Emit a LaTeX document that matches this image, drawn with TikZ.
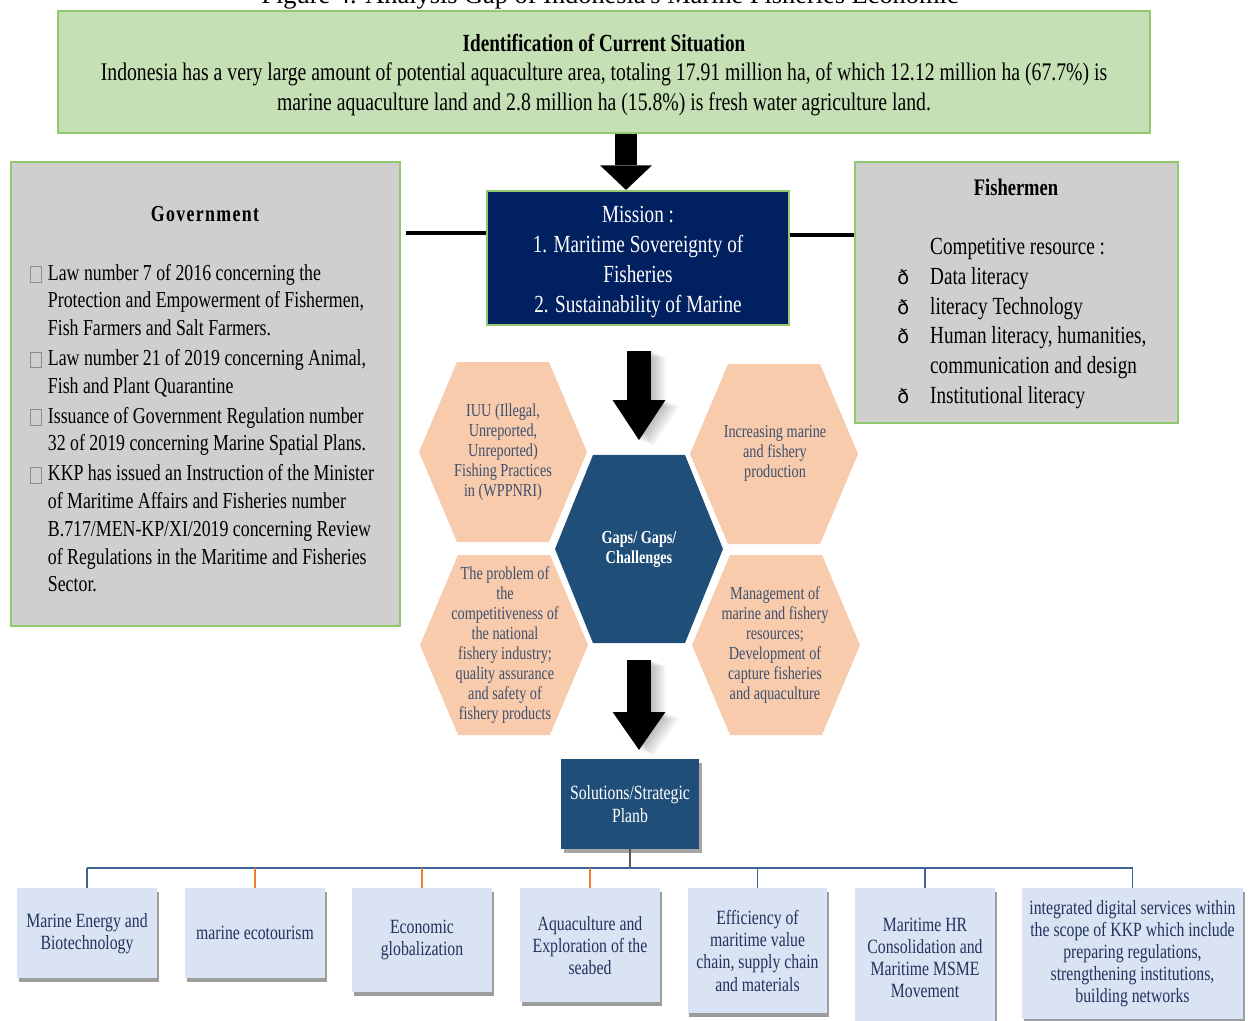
\documentclass[tikz,border=0pt]{standalone}
\usepackage{fontspec}
\setmainfont{Liberation Serif}[FakeStretch=0.78]
\newfontfamily\capfont{Liberation Serif}
\newfontfamily\symfont{DejaVu Sans}
\usetikzlibrary{arrows.meta,shadows}
\definecolor{sitgreen}{RGB}{197,224,180}
\definecolor{edgegreen}{RGB}{146,200,110}
\definecolor{govgray}{RGB}{208,206,206}
\definecolor{missionblue}{RGB}{0,32,96}
\definecolor{steelblue}{RGB}{31,78,121}
\definecolor{peach}{RGB}{248,203,173}
\definecolor{slate}{RGB}{62,80,108}
\definecolor{paleblue}{RGB}{218,227,243}
\definecolor{inkblue}{RGB}{32,52,92}
\definecolor{busblue}{RGB}{62,100,150}
\definecolor{busorange}{RGB}{237,125,49}
% empty square in front of each regulation
\newcommand{\lawbox}{\makebox[10pt][l]{\raisebox{-1pt}{\color{black!45}\fboxrule=0.5pt\fboxsep=0pt\fbox{\rule{0pt}{8.5pt}\rule{5.5pt}{0pt}}}}}
\newcommand{\litmark}{\makebox[18.7pt][l]{\symfont\fontsize{11}{11}\selectfont ð}}

\begin{document}
\begin{tikzpicture}[x=0.02cm,y=-0.02cm,
    infobox/.style={draw=edgegreen,line width=1.2pt,inner sep=0pt},
    bigarrow/.style n args={3}{line width=#1,-{Triangle[width=#2,length=#3,line width=0pt]}},
    hexlabel/.style={align=center,text=slate,font={\fontsize{10.4}{11.4}\selectfont}},
    planbox/.style={fill=paleblue,text=inkblue,align=center,anchor=north,inner sep=1pt,
        minimum width=2.8cm,font={\fontsize{11.5}{12.6}\selectfont},
        drop shadow={shadow xshift=1pt,shadow yshift=-2pt,opacity=.55,fill=black!70}},
    hexcell/.pic={\fill (-84,0) -- (-46,-90) -- (46,-90) -- (84,0) -- (46,90) -- (-46,90) -- cycle;},
    ]
    \useasboundingbox (0,0) rectangle (1248,1021);
    \node[anchor=base] (caption) at (610,4) {\capfont\fontsize{15}{17}\selectfont Figure 4. Analysis Gap of Indonesia's Marine Fisheries Economic};

    % top: situation and mission
    \node[infobox,fill=sitgreen,minimum width=21.84cm,minimum height=2.44cm] (situation) at (604,72) {};
    \node[align=center,font={\fontsize{14.4}{17}\selectfont}] (sittext) at (604,75)
        {{\fontsize{14}{17}\selectfont\bfseries Identification of Current Situation}\\
        Indonesia has a very large amount of potential aquaculture area, totaling 17.91 million ha, of which 12.12 million ha (67.7\%) is\\
        marine aquaculture land and 2.8 million ha (15.8\%) is fresh water agriculture land.};
    \node[infobox,fill=missionblue,minimum width=6.04cm,minimum height=2.68cm] (mission) at (638,258) {};
    \node[align=center,text=white,font={\fontsize{14}{17}\selectfont}] (missiontext) at (638,262)
        {Mission :\\1. Maritime Sovereignty of\\Fisheries\\2. Sustainability of Marine};

    % side boxes
    \node[infobox,fill=govgray,minimum width=7.78cm,minimum height=9.28cm] (gov) at (205.5,394) {};
    \node[font={\fontsize{13}{15}\selectfont\bfseries\addfontfeature{LetterSpace=6}}] (govtitle) at (205,214) {Government};
    \node[anchor=west,inner sep=0pt,font={\fontsize{13}{15.8}\selectfont}] (govlist) at (30,430.5) {%
        \begin{tabular}{@{}l@{}l@{}}
        \lawbox & Law number 7 of 2016 concerning the\\
        & Protection and Empowerment of Fishermen,\\
        & Fish Farmers and Salt Farmers.\\[1.2pt]
        \lawbox & Law number 21 of 2019 concerning Animal,\\
        & Fish and Plant Quarantine\\[1.2pt]
        \lawbox & Issuance of Government Regulation number\\
        & 32 of 2019 concerning Marine Spatial Plans.\\[1.2pt]
        \lawbox & KKP has issued an Instruction of the Minister\\
        & of Maritime Affairs and Fisheries number\\
        & B.717/MEN-KP/XI/2019 concerning Review\\
        & of Regulations in the Maritime and Fisheries\\
        & Sector.
        \end{tabular}};

    \node[infobox,fill=govgray,minimum width=6.46cm,minimum height=5.22cm] (fisher) at (1016.5,292.5) {};
    \node[font={\fontsize{13.5}{15}\selectfont\bfseries}] (fishertitle) at (1016,187) {Fishermen};
    \node[anchor=west,inner sep=0pt,font={\fontsize{14}{17}\selectfont}] (fisherlist) at (897,323) {%
        \begin{tabular}{@{}l@{}l@{}}
        & Competitive resource :\\
        \litmark & Data literacy\\
        \litmark & literacy Technology\\
        \litmark & Human literacy, humanities,\\
        & communication and design\\
        \litmark & Institutional literacy
        \end{tabular}};

    \draw[line width=1.8pt] ([yshift=0.5cm]mission.west) -- ([xshift=0.1cm,yshift=0.5cm]mission.west -| gov.east);
    \draw[line width=1.8pt] ([yshift=0.46cm]mission.east) -- ([yshift=0.46cm]mission.east -| fisher.west);

    % gaps hexagons
    \pic[peach] at (503,452) {hexcell};
    \pic[peach] at (774,454) {hexcell};
    \pic[peach] at (504,645) {hexcell};
    \pic[peach] at (776,645) {hexcell};
    \pic[steelblue,yscale=1.045] at (639,549) {hexcell};
    \coordinate (gapstop) at (639,455);
    \coordinate (gapsbot) at (639,643);

    \node[hexlabel] (iuu) at (503,452) {IUU (Illegal,\\Unreported,\\Unreported)\\Fishing Practices\\in (WPPNRI)};
    \node[hexlabel] (increase) at (775,453) {Increasing marine\\and fishery\\production};
    \node[hexlabel] (competitive) at (505,645) {The problem of\\the\\competitiveness of\\the national\\fishery industry;\\quality assurance\\and safety of\\fishery products};
    \node[hexlabel] (manage) at (775,645) {Management of\\marine and fishery\\resources;\\Development of\\capture fisheries\\and aquaculture};
    \node[align=center,text=white,font={\fontsize{10.4}{11.4}\selectfont\bfseries}] (gaps) at (639,549) {Gaps/ Gaps/\\Challenges};

    % solutions
    \node[fill=steelblue,text=white,minimum width=2.76cm,minimum height=1.8cm,align=center,
        font={\fontsize{11.5}{13}\selectfont},
        drop shadow={shadow xshift=1.5pt,shadow yshift=-2pt,opacity=.5,fill=black!70}] (solution) at (630,804)
        {Solutions/Strategic\\Planb};

    % soft shade beside the lower arrows
    \foreach \s in {1,...,9}{
        \draw[bigarrow={14pt}{30pt}{22.7pt},shorten <=14pt,shorten >=8.5pt,black,opacity=0.03]
            ([xshift=\s*0.9pt,yshift=-\s*0.4pt]mission.south -| gapstop) -- ([xshift=\s*0.9pt,yshift=-\s*0.4pt]gapstop);
        \draw[bigarrow={14pt}{30pt}{21.5pt},shorten <=9.6pt,shorten >=5pt,black,opacity=0.03]
            ([xshift=\s*0.9pt,yshift=-\s*0.4pt]gapsbot) -- ([xshift=\s*0.9pt,yshift=-\s*0.4pt]gapsbot |- solution.north);
    }
    \draw[bigarrow={12.5pt}{29.5pt}{14pt}] ([xshift=-0.24cm]situation.south -| mission.north) -- ([xshift=-0.24cm]mission.north);
    \draw[bigarrow={14pt}{30pt}{22.7pt},shorten <=14pt,shorten >=8.5pt] (mission.south -| gapstop) -- (gapstop);
    \draw[bigarrow={14pt}{30pt}{21.5pt},shorten <=9.6pt,shorten >=5pt] (gapsbot) -- (gapsbot |- solution.north);

    % strategic plans
    \node[planbox,minimum height=1.8cm] (energy) at (87,888) {Marine Energy and\\Biotechnology};
    \node[planbox,minimum height=1.8cm] (ecotour) at (255,888) {marine ecotourism};
    \node[planbox,minimum height=2.08cm] (globalize) at (422,888) {Economic\\globalization};
    \node[planbox,minimum height=2.28cm] (seabed) at (590,888) {Aquaculture and\\Exploration of the\\seabed};
    \node[planbox,minimum height=2.5cm] (valuechain) at (757.5,888) {Efficiency of\\maritime value\\chain, supply chain\\and materials};
    \node[planbox,minimum height=2.78cm] (msme) at (925,888) {Maritime HR\\Consolidation and\\Maritime MSME\\Movement};
    \node[planbox,minimum width=4.42cm,minimum height=2.62cm] (digital) at (1132.5,888) {integrated digital services within\\the scope of KKP which include\\preparing regulations,\\strengthening institutions,\\building networks};

    \coordinate (bus) at (630,868);
    \draw[black!65,line width=0.8pt] (solution.south) -- (bus);
    \draw[busblue,line width=1pt] (energy.north |- bus) -- (digital.north |- bus);
    \foreach \b in {energy,valuechain,msme,digital}
        \draw[busblue,line width=1pt] (\b.north |- bus) -- (\b.north);
    \foreach \b in {ecotour,globalize,seabed}
        \draw[busorange,line width=0.8pt] (\b.north |- bus) -- (\b.north);
\end{tikzpicture}
\end{document}
